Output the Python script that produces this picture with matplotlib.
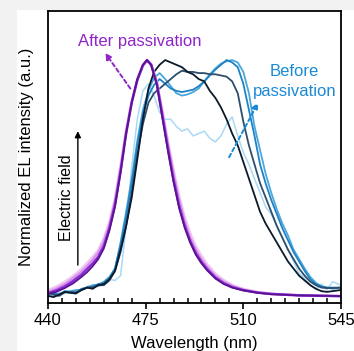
import numpy as np
import matplotlib.pyplot as plt
from matplotlib.patches import Rectangle

plt.rcParams['font.family'] = ['Liberation Sans', 'DejaVu Sans']

# ---- After passivation (purple), wavelength grid shared by all purple traces
lam_p = [440, 443, 446, 449, 452, 454, 456, 458, 460, 462, 464, 466, 468, 470, 472, 474,
         475.5, 477, 479, 481, 483, 485, 487, 489, 491, 493, 495, 497, 500, 503, 506,
         510, 515, 520, 530, 545]
purple_1 = [0.030, 0.045, 0.065, 0.090, 0.120, 0.145, 0.170, 0.200, 0.250, 0.320, 0.420, 0.560,
            0.710, 0.830, 0.920, 0.975, 0.995, 0.980, 0.910, 0.790, 0.660, 0.540, 0.430, 0.340,
            0.270, 0.215, 0.175, 0.140, 0.100, 0.072, 0.052, 0.035, 0.022, 0.015, 0.008, 0.004]
purple_2 = [0.022, 0.036, 0.055, 0.080, 0.108, 0.132, 0.158, 0.188, 0.235, 0.305, 0.405, 0.545,
            0.700, 0.825, 0.915, 0.975, 0.998, 0.980, 0.905, 0.780, 0.645, 0.520, 0.410, 0.320,
            0.250, 0.200, 0.160, 0.128, 0.090, 0.065, 0.047, 0.032, 0.020, 0.014, 0.008, 0.004]
purple_3 = [0.016, 0.028, 0.045, 0.068, 0.095, 0.118, 0.142, 0.170, 0.215, 0.290, 0.390, 0.530,
            0.690, 0.820, 0.915, 0.978, 1.000, 0.980, 0.900, 0.765, 0.625, 0.495, 0.385, 0.300,
            0.235, 0.185, 0.148, 0.118, 0.082, 0.058, 0.042, 0.029, 0.019, 0.013, 0.007, 0.004]
purple_4 = [0.013, 0.022, 0.038, 0.058, 0.085, 0.105, 0.130, 0.160, 0.205, 0.280, 0.380, 0.525,
            0.690, 0.820, 0.920, 0.980, 1.000, 0.978, 0.895, 0.755, 0.615, 0.485, 0.375, 0.292,
            0.228, 0.178, 0.142, 0.113, 0.078, 0.055, 0.040, 0.028, 0.018, 0.012, 0.007, 0.004]

# ---- Before passivation (blue), wavelength grid shared by all blue traces
lam_b = [440, 442, 444, 446, 448, 450, 452, 454, 456, 458, 460, 462, 464, 466, 468, 470,
         472, 474, 476, 478, 480, 482, 484, 486, 488, 490, 492, 494, 496, 498, 500, 502,
         504, 506, 508, 510, 512, 514, 516, 518, 520, 522, 524, 526, 528, 530, 532, 534,
         536, 538, 540, 542, 545]
pale_blue = [0.000, 0.010, 0.015, 0.020, 0.018, 0.015, 0.030, 0.045, 0.050, 0.045, 0.055, 0.075,
             0.070, 0.090, 0.300, 0.550, 0.750, 0.870, 0.900, 0.850, 0.780, 0.750, 0.750, 0.720,
             0.700, 0.710, 0.680, 0.690, 0.700, 0.670, 0.655, 0.680, 0.730, 0.760, 0.680, 0.610,
             0.560, 0.500, 0.440, 0.380, 0.350, 0.300, 0.250, 0.200, 0.150, 0.100, 0.080, 0.050,
             0.035, 0.055, 0.030, 0.065, 0.050]
blue_light = [0.010, 0.012, 0.015, 0.020, 0.025, 0.030, 0.030, 0.040, 0.050, 0.050, 0.065, 0.085,
              0.120, 0.230, 0.360, 0.500, 0.660, 0.790, 0.870, 0.925, 0.945, 0.920, 0.890, 0.860,
              0.850, 0.855, 0.865, 0.880, 0.910, 0.940, 0.965, 0.985, 0.995, 1.000, 0.990, 0.950,
              0.860, 0.720, 0.620, 0.520, 0.440, 0.370, 0.310, 0.260, 0.200, 0.160, 0.120, 0.085,
              0.060, 0.045, 0.040, 0.035, 0.040]
blue_mid = [0.020, 0.015, 0.010, 0.025, 0.022, 0.020, 0.035, 0.040, 0.045, 0.055, 0.060, 0.080,
            0.120, 0.220, 0.340, 0.480, 0.640, 0.770, 0.850, 0.895, 0.920, 0.900, 0.880, 0.870,
            0.865, 0.870, 0.875, 0.890, 0.910, 0.935, 0.960, 0.980, 1.000, 0.990, 0.970, 0.900,
            0.790, 0.680, 0.560, 0.480, 0.410, 0.350, 0.290, 0.240, 0.190, 0.150, 0.110, 0.075,
            0.055, 0.045, 0.040, 0.040, 0.040]
slate = [0.020, 0.010, 0.005, 0.020, 0.020, 0.020, 0.030, 0.040, 0.040, 0.050, 0.050, 0.070,
         0.110, 0.190, 0.300, 0.440, 0.600, 0.730, 0.820, 0.860, 0.880, 0.900, 0.920, 0.940,
         0.955, 0.950, 0.950, 0.945, 0.945, 0.940, 0.940, 0.935, 0.930, 0.910, 0.860, 0.740,
         0.640, 0.560, 0.480, 0.420, 0.360, 0.300, 0.250, 0.200, 0.160, 0.120, 0.090, 0.065,
         0.050, 0.040, 0.038, 0.038, 0.040]
navy = [0.005, 0.000, 0.010, 0.022, 0.018, 0.015, 0.030, 0.040, 0.035, 0.050, 0.055, 0.075,
        0.110, 0.200, 0.300, 0.420, 0.580, 0.750, 0.880, 0.950, 0.980, 1.000, 0.990, 0.980,
        0.970, 0.950, 0.940, 0.920, 0.910, 0.870, 0.840, 0.800, 0.750, 0.690, 0.640, 0.570,
        0.500, 0.430, 0.360, 0.310, 0.270, 0.230, 0.190, 0.150, 0.120, 0.090, 0.070, 0.050,
        0.035, 0.025, 0.022, 0.025, 0.030]

xticks = [440, 475, 510, 545]

fig = plt.figure(figsize=(3.54, 3.51), dpi=100)
fig.patch.set_facecolor('#f2f2f2')
fig.add_artist(Rectangle((17/354, 0), 1, 341/351, transform=fig.transFigure,
                         facecolor='white', edgecolor='none', zorder=0))
ax = fig.add_axes([48/354, 48/351, 293/354, 292/351])

# blue traces (before passivation)
ax.plot(lam_b, pale_blue, color='#aad9f3', lw=1.1)
ax.plot(lam_b, blue_light, color='#4aa7dd', lw=1.3)
ax.plot(lam_b, blue_mid, color='#1f82c4', lw=1.3)
ax.plot(lam_b, slate, color='#2d4e6c', lw=1.3)
ax.plot(lam_b, navy, color='#0b1a2c', lw=1.3)

# purple traces (after passivation)
ax.plot(lam_p, purple_1, color='#f0c6f5', lw=1.6)
ax.plot(lam_p, purple_2, color='#d890e8', lw=1.6)
ax.plot(lam_p, purple_3, color='#8a2bd6', lw=1.8)
ax.plot(lam_p, purple_4, color='#5a1390', lw=1.3)

ax.set_xlim(440, 545)
ax.set_ylim(-0.025, 1.207)
ax.set_xticks(xticks)
ax.set_xticks(np.arange(440, 546, 5), minor=True)
ax.set_yticks([])
ax.tick_params(axis='x', which='major', direction='out', length=4, width=1.2,
               labelsize=12, pad=3)
ax.tick_params(axis='x', which='minor', direction='in', length=3.5, width=1.1)
for s in ax.spines.values():
    s.set_linewidth(1.3)
ax.set_xlabel('Wavelength (nm)', fontsize=12, labelpad=6)
ax.set_ylabel('Normalized EL intensity (a.u.)', fontsize=12, labelpad=10)

# annotations
ax.text(472.8, 1.077, 'After passivation', color='#8e24c9', fontsize=12,
        ha='center', va='center')
ax.annotate('', xy=(460.5, 1.03), xytext=(469.5, 0.88),
            arrowprops=dict(arrowstyle='-|>', color='#8e24c9', lw=1.4, ls=(0, (2, 1.5)),
                            mutation_scale=9, shrinkA=0, shrinkB=0))
ax.text(528.4, 0.91, 'Before\npassivation', color='#1b8ad6', fontsize=12,
        ha='center', va='center', linespacing=1.4)
ax.annotate('', xy=(515.3, 0.82), xytext=(504.9, 0.59),
            arrowprops=dict(arrowstyle='-|>', color='#1b8ad6', lw=1.4, ls=(0, (2, 1.5)),
                            mutation_scale=9, shrinkA=0, shrinkB=0))
ax.annotate('', xy=(450.7, 0.70), xytext=(450.7, 0.135),
            arrowprops=dict(arrowstyle='-|>', color='black', lw=1.0, mutation_scale=9,
                            shrinkA=0, shrinkB=0))
ax.text(446.5, 0.42, 'Electric field', rotation=90, fontsize=11.5,
        ha='center', va='center')

fig.savefig('out.png', dpi=100, facecolor=fig.get_facecolor())
